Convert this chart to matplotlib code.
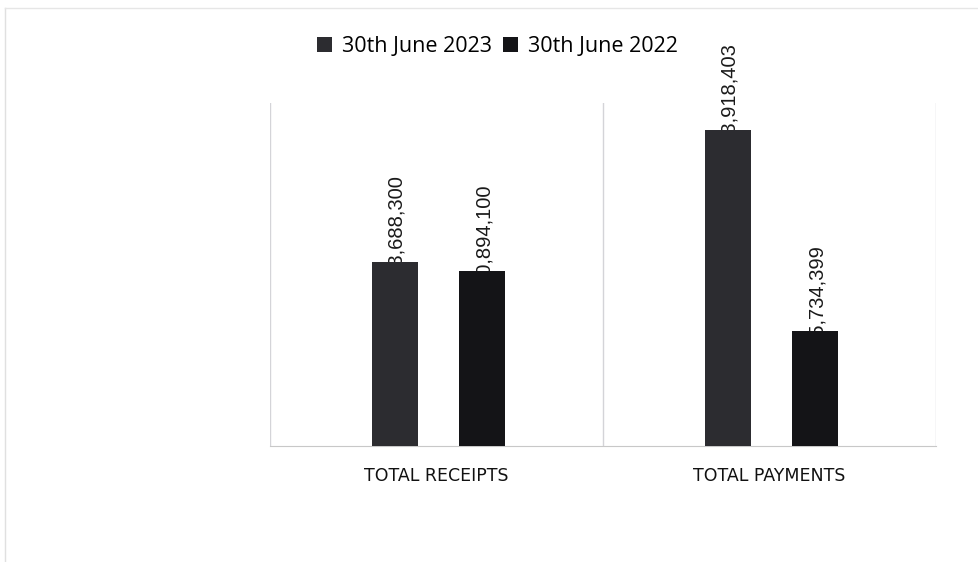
import numpy as np
import matplotlib.pyplot as plt
from matplotlib.lines import Line2D

# values (leading digits hidden behind the bars)
categories = ["TOTAL RECEIPTS", "TOTAL PAYMENTS"]
series_names = ["30th June 2023", "30th June 2022"]
values_2023 = [263688300, 453918403]
values_2022 = [250894100, 165734399]
colors = ["#2c2c30", "#141417"]

fig = plt.figure(figsize=(9.79, 5.62), dpi=100)
ax = fig.add_axes([0.2758, 0.2064, 0.6803, 0.6103])

x = np.arange(len(categories)) + 0.006
width = 0.138
off = 0.131

b1 = ax.bar(x - off, values_2023, width, color=colors[0], zorder=3, label=series_names[0])
b2 = ax.bar(x + off, values_2022, width, color=colors[1], zorder=3, label=series_names[1])

# data labels, rotated; the first digits sit under the bar like in the scan
for bars, vals in [(b1, values_2023), (b2, values_2022)]:
    for rect, v in zip(bars, vals):
        ax.annotate(f"{v:,}", (rect.get_x() + rect.get_width() / 2, v),
                    xytext=(1, -18), textcoords="offset points",
                    rotation=90, ha="center", va="bottom",
                    fontsize=14.5, family="Liberation Sans", color="#1a1a1a", zorder=2)

ax.set_xlim(-0.5, 1.5)
ax.set_ylim(0, max(values_2023) * 1.085)
for xv in [-0.5, 0.5, 1.5]:
    ax.axvline(xv, color="#d4d4d8", lw=1, zorder=1)

for s in ["top", "left", "right"]:
    ax.spines[s].set_visible(False)
ax.spines["bottom"].set_color("#c8c8c8")
ax.set_yticks([])
ax.set_xticks(np.arange(len(categories)))
ax.set_xticklabels(categories, fontsize=12.5, family="DejaVu Sans", color="#111111")
ax.tick_params(axis="x", length=0, pad=15)

fig.legend(handles=[b1, b2], loc="center", bbox_to_anchor=(0.508, 0.917), ncol=2,
           frameon=False, handlelength=0.7, handleheight=0.7, handletextpad=0.45,
           columnspacing=0.5, prop={"family": "Open Sans", "size": 15.5})

# faint outer frame of the scanned chart
fig.add_artist(Line2D([0.005, 0.005], [0.0, 0.986], color="#e0e0e0", lw=1))
fig.add_artist(Line2D([0.005, 1.0], [0.986, 0.986], color="#e6e6e6", lw=1))

fig.savefig("out.png", dpi=100)
